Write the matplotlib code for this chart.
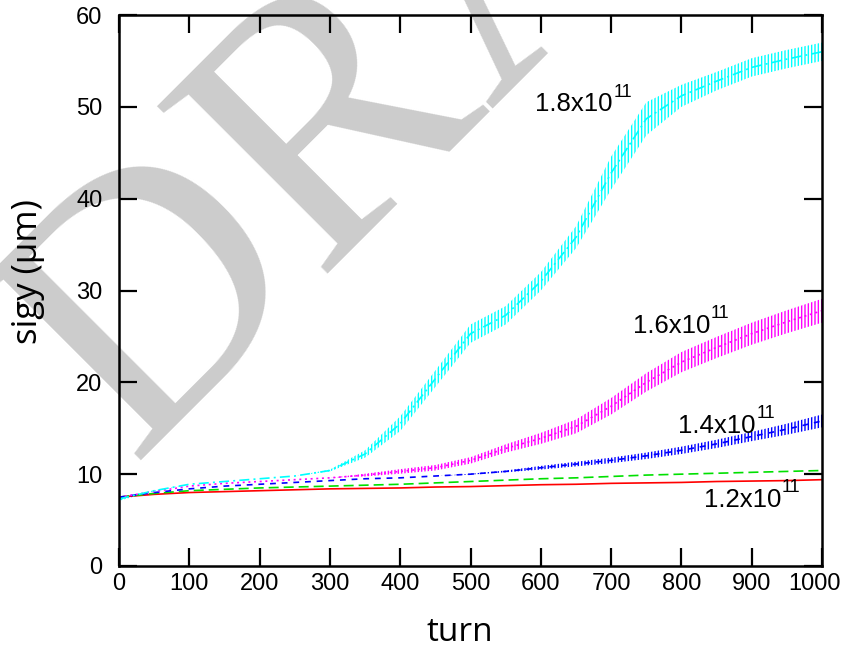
import numpy as np
import matplotlib
matplotlib.use('Agg')
import matplotlib.pyplot as plt
import matplotlib.transforms as mtrans

plt.rcParams['hatch.linewidth'] = 1.0

# turn grid shared by all curves
turns = [0, 50, 100, 150, 200, 250, 300, 350, 400, 450, 500,
         550, 600, 650, 700, 750, 800, 850, 900, 950, 1000]

# sigy (um), one list per bunch intensity
sig_12 = [7.5, 7.8, 8.0, 8.1, 8.2, 8.3, 8.4, 8.45, 8.5, 8.6, 8.65,
          8.75, 8.85, 8.9, 9.0, 9.05, 9.1, 9.2, 9.25, 9.3, 9.4]
sig_13 = [7.5, 7.9, 8.2, 8.35, 8.5, 8.6, 8.7, 8.8, 8.9, 9.05, 9.2,
          9.35, 9.5, 9.6, 9.75, 9.9, 10.0, 10.1, 10.2, 10.3, 10.4]
sig_14 = [7.5, 8.0, 8.4, 8.7, 8.9, 9.1, 9.3, 9.5, 9.6, 9.8, 10.0,
          10.3, 10.7, 11.1, 11.5, 12.0, 12.6, 13.3, 14.1, 14.9, 15.8]
sig_16 = [7.5, 8.1, 8.7, 9.0, 9.2, 9.4, 9.6, 9.9, 10.3, 10.7, 11.5,
          12.8, 13.9, 15.2, 17.4, 20.0, 22.2, 23.8, 25.3, 26.6, 27.8]
sig_18 = [7.3, 8.2, 8.9, 9.2, 9.5, 9.8, 10.4, 12.2, 15.5, 20.4, 25.3,
          27.3, 31.0, 35.8, 42.8, 48.7, 51.2, 52.8, 54.3, 55.2, 56.0]

# half height of the turn-by-turn oscillation band
amp_12 = [0.0] * 21
amp_13 = [0.0] * 21
amp_14 = [0.05, 0, 0, 0, 0, 0, 0, 0, 0, 0, 0.05,
          0.1, 0.2, 0.25, 0.3, 0.35, 0.4, 0.45, 0.5, 0.6, 0.7]
amp_16 = [0.05, 0, 0, 0, 0, 0, 0, 0.15, 0.25, 0.3, 0.35,
          0.45, 0.6, 0.75, 0.9, 1.0, 1.1, 1.15, 1.2, 1.25, 1.3]
amp_18 = [0.2, 0.05, 0, 0, 0, 0, 0.1, 0.4, 0.8, 0.9, 1.0,
          1.0, 1.0, 1.2, 1.8, 1.8, 1.2, 1.0, 1.0, 1.0, 1.0]

labels = ['1.2x10', '1.4x10', '1.6x10', '1.8x10']
label_pos = [(832, 6.4), (795, 14.5), (731, 25.4), (592, 49.5)]

fig = plt.figure(figsize=(8.43, 6.47), dpi=100)
ax = fig.add_axes([0.1412, 0.1252, 0.834, 0.8516])
ax.patch.set_facecolor('none')

fig.text(0.1554, 0.2875, 'DRAFT', rotation=45, rotation_mode='anchor',
         ha='left', va='baseline', fontsize=262, family='Liberation Serif',
         color='#cccccc', zorder=-1)

x = np.array(turns)
series = [
    (sig_12, amp_12, 'red', '-'),
    (sig_13, amp_13, '#00e000', (0, (6, 3))),
    (sig_14, amp_14, 'blue', (0, (3.5, 3.5))),
    (sig_16, amp_16, 'magenta', (0, (1.2, 2.2))),
    (sig_18, amp_18, 'cyan', (0, (6, 2.5, 1.2, 2.5))),
]
for sig, amp, col, ls in series:
    s = np.array(sig)
    a = np.array(amp)
    ax.fill_between(x, s - a, s + a, facecolor='none', edgecolor=col,
                    hatch='|||||', linewidth=0)
    ax.plot(x, s, color=col, linestyle=ls, linewidth=1.2)

for txt, (tx, ty) in zip(labels, label_pos):
    t = ax.text(tx, ty, txt, fontsize=18.5, family='Liberation Sans',
                ha='left', va='baseline')
    ax.annotate('11', xy=(1, 1), xycoords=t, xytext=(0.5, -3.0),
                textcoords='offset points', fontsize=13,
                family='Liberation Sans', ha='left', va='baseline')

ax.set_xlim(0, 1000)
ax.set_ylim(0, 60)
ax.set_xticks(range(0, 1001, 100))
ax.set_yticks(range(0, 61, 10))
ax.tick_params(direction='in', length=13, width=1.6, top=True, right=True,
               labelsize=17)
ax.tick_params(axis='x', pad=5)
ax.tick_params(axis='y', pad=12)
for lab in ax.get_xticklabels() + ax.get_yticklabels():
    lab.set_family('Liberation Sans')
# last x label sits a little to the left so it fits in the picture
last = ax.xaxis.get_major_ticks()[-1].label1
last.set_transform(last.get_transform() +
                   mtrans.ScaledTranslation(-0.08, 0, fig.dpi_scale_trans))
for sp in ax.spines.values():
    sp.set_linewidth(1.8)

ax.set_xlabel('turn', fontsize=24, family='Open Sans')
ax.set_ylabel('sigy (\u03bcm)', fontsize=25, family='Open Sans')
ax.xaxis.set_label_coords(0.485, -0.09)
ax.yaxis.set_label_coords(-0.105, 0.535)

fig.savefig('out.png', dpi=100)
